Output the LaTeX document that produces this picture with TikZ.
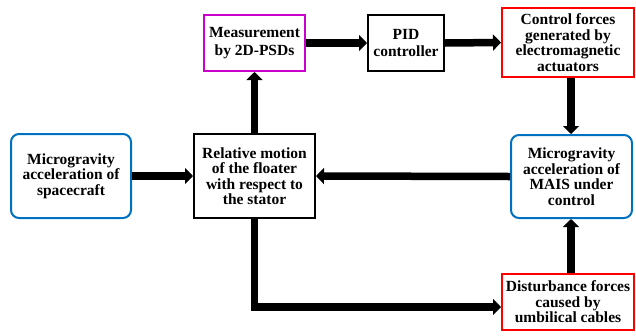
\documentclass[tikz,border=0pt]{standalone}
\usepackage{fontspec}
\setmainfont{Liberation Serif}
\usetikzlibrary{arrows.meta,calc}
\definecolor{bbox}{RGB}{0,112,192}
\definecolor{mbox}{RGB}{204,0,204}
\definecolor{rbox}{RGB}{255,0,0}
\begin{document}
\begin{tikzpicture}[x=1pt,y=-1pt,
  txt/.style={font=\fontsize{15.5}{15.5}\selectfont\bfseries, align=center, inner sep=0pt, line width=2pt, fill=white},
  plainbox/.style={txt, draw=black},
  magbox/.style={txt, draw=mbox},
  redbox/.style={txt, draw=rbox},
  bluebox/.style={txt, draw=bbox, rounded corners=8pt},
  conn/.style={line width=7.5pt, -{Triangle[width=16pt,length=8pt]}}]
\useasboundingbox (0,0) rectangle (636,335);
\node[magbox, font=\fontsize{15.5}{17.5}\selectfont\bfseries, minimum width=101pt, minimum height=56pt] (meas) at (254.5,43) {Measurement\\by 2D-PSDs};
\node[plainbox, font=\fontsize{15.5}{17.5}\selectfont\bfseries, minimum width=76pt, minimum height=56pt] (pid) at (406,43) {PID\\controller};
\node[redbox, minimum width=132pt, minimum height=69pt] (ctrl) at (568,42.5) {Control forces\\generated by\\electromagnetic\\actuators};
\node[bluebox, minimum width=121pt, minimum height=83pt] (mais) at (571.5,176.5) {Microgravity\\acceleration of\\MAIS under\\control};
\node[plainbox, minimum width=121pt, minimum height=84pt] (rel) at (254.5,176) {Relative motion\\of the floater\\with respect to\\the stator};
\node[bluebox, minimum width=120pt, minimum height=84pt] (sc) at (71,176) {Microgravity\\acceleration of\\spacecraft};
\node[redbox, minimum width=132pt, minimum height=56pt] (dist) at (568,302) {Disturbance forces\\caused by\\umbilical cables};
\coordinate (ctop) at ($(ctrl.south)+(3,0)$);
\coordinate (cbot) at (ctop |- mais.north);
\coordinate (dtop) at ($(dist.north)+(3,0)$);
\coordinate (dbot) at (dtop |- mais.south);
\coordinate (bend) at ($(rel.south)+(0,88)$);
\draw[conn] (sc.east) -- (rel.west);
\draw[conn] (rel.north) -- (meas.south);
\draw[conn] (meas.east) -- (pid.west);
\draw[conn] (pid.east) -- (ctrl.west);
\draw[conn] (ctop) -- (cbot);
\draw[conn] (mais.west) -- (rel.east);
\draw[conn] (dtop) -- (dbot);
\draw[conn] (rel.south) -- (bend) -- (bend -| dist.west);
\end{tikzpicture}
\end{document}
